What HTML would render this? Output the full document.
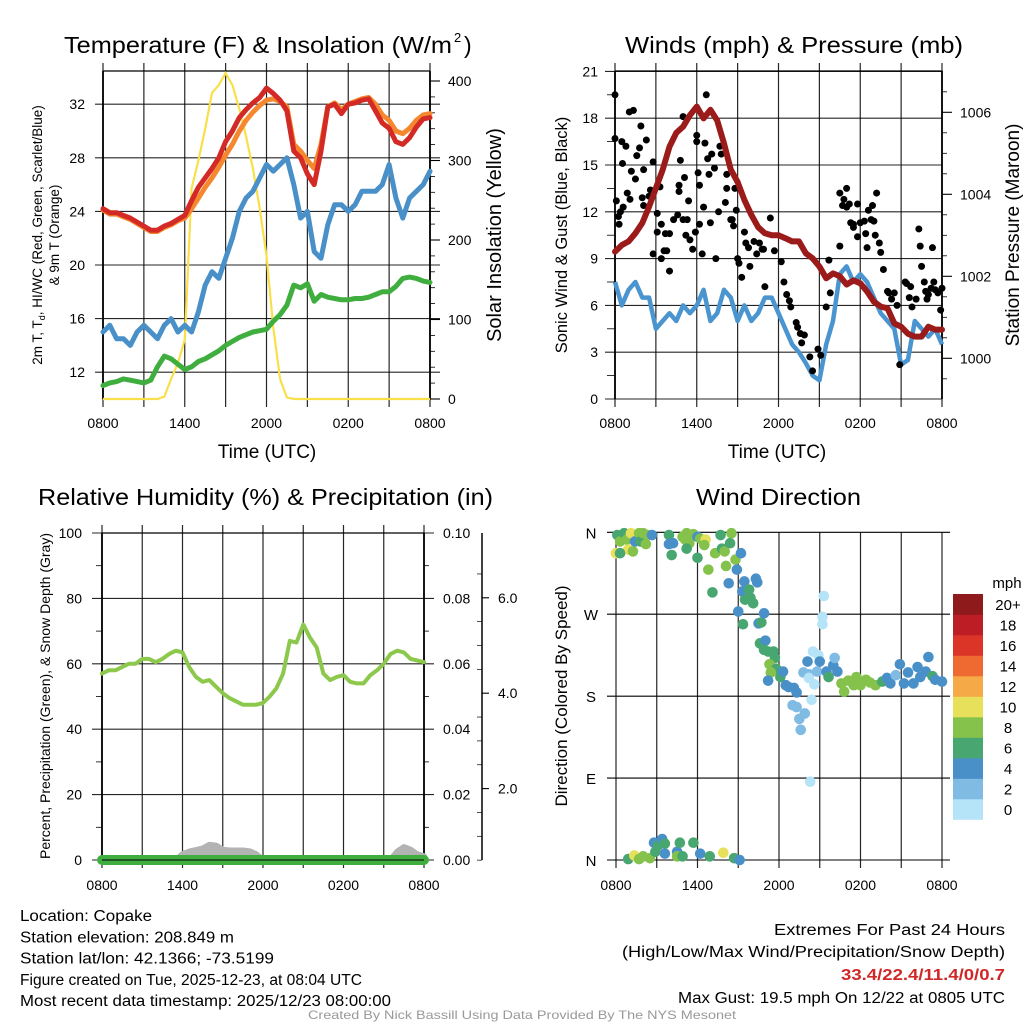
<!DOCTYPE html>
<html><head><meta charset="utf-8"><style>
html,body{margin:0;padding:0;background:#fff}
svg{display:block;font-family:"Liberation Sans",sans-serif}
</style></head><body>
<svg id="c" width="1024" height="1024" viewBox="0 0 1024 1024" xmlns="http://www.w3.org/2000/svg"></svg>
<script>
// ---------- DATA (half-hourly from 0800 UTC, 49 points) ----------
const xTickLabels = ["0800","","1400","","2000","","0200","","0800"];
const tempRed = [24.2,23.9,23.9,23.7,23.5,23.2,22.9,22.6,22.6,22.9,23.1,23.4,23.7,24.8,25.8,26.5,27.2,28.0,29.2,30.0,31.0,31.6,32.1,32.5,33.2,32.8,32.3,31.5,28.5,28.0,26.8,26.0,28.5,31.8,32.0,31.3,32.0,32.1,32.3,32.4,31.5,30.6,30.2,29.2,29.0,29.5,30.3,30.9,31.0];
const tempOrange = [24.1,23.8,23.8,23.6,23.4,23.1,22.8,22.5,22.5,22.8,23.0,23.3,23.5,24.2,25.0,25.8,26.5,27.3,28.2,29.0,30.0,30.8,31.4,31.9,32.3,32.4,32.2,31.8,29.0,28.5,27.8,27.2,29.0,31.8,32.1,31.6,32.0,32.2,32.4,32.5,32.0,31.2,30.8,30.0,29.8,30.2,30.8,31.2,31.3];
const tempBlue = [15.0,15.5,14.5,14.5,14.0,15.0,15.5,15.0,14.5,15.5,16.0,15.0,15.5,15.0,16.5,18.5,19.5,19.0,20.5,22.0,24.0,25.0,25.5,26.5,27.5,27.0,27.5,28.0,26.0,23.5,24.0,21.0,20.5,23.0,24.5,24.5,24.0,24.5,25.5,25.5,25.5,26.0,27.5,25.0,23.5,25.0,25.5,26.0,27.0];
const tempGreen = [11.0,11.2,11.3,11.5,11.4,11.3,11.2,11.4,12.4,13.2,13.0,12.6,12.2,12.4,12.8,13.0,13.3,13.6,14.0,14.3,14.6,14.8,15.0,15.1,15.2,15.8,16.3,17.0,18.5,18.3,18.6,17.3,17.8,17.6,17.5,17.4,17.4,17.5,17.5,17.6,17.8,18.0,18.0,18.4,19.0,19.1,19.0,18.8,18.7];
const solar = [0,0,0,0,0,0,0,0,0,3,25,45,75,265,300,340,385,395,410,395,365,330,290,240,180,90,25,2,0,0,0,0,0,0,0,0,0,0,0,0,0,0,0,0,0,0,0,0,0];
const tempTicks = [12,16,20,24,28,32];
const solarTicks = [0,100,200,300,400];

const windSpeed = [7.5,6,7,7.5,6.5,6.5,4.5,5,5.5,5,6,5.5,6,7,5,5.5,7,6.5,5,6,5,5.5,6.5,6.5,5.5,4.5,3.5,3.0,2.3,1.5,1.2,3.5,5,8,8.5,7.5,8,7.5,6.5,5.5,5.0,4.5,2.2,2.5,5,4.5,4.0,4.5,3.5];
const pressure = [1002.6,1002.76,1002.85,1003.05,1003.3,1003.7,1004.15,1004.6,1005.16,1005.5,1005.65,1005.93,1006.14,1005.85,1006.06,1005.8,1005.24,1004.6,1004.3,1003.86,1003.5,1003.2,1003.05,1003.0,1003.0,1002.93,1002.85,1002.85,1002.56,1002.44,1002.24,1001.95,1002.07,1002.0,1001.8,1001.9,1001.83,1001.63,1001.38,1001.26,1001.22,1000.85,1000.77,1000.6,1000.53,1000.53,1000.77,1000.7,1000.7];
const gustHours = [0,0,0.1,0.25,0.3,0.6,0.4,1.05,1.35,0.5,0.8,0.55,0.9,1.1,1.2,1.5,1.6,1.8,1.9,2,2.1,2.1,2.3,2.5,2.6,2.8,2.8,3.1,3.3,3.4,3.4,3.1,3.7,3.6,3.8,4.0,4.0,4.8,4.7,4.7,5.1,5,4.3,4.6,5,5.3,5.4,5.2,5.5,5.7,5.9,6,6,6.1,6.2,6.2,6.4,6.5,6.6,6.7,6.8,6.9,7.0,7.1,7.3,7.4,7.6,7.7,7.8,8.1,8.2,8.2,8.5,8.6,8.7,8.8,8.9,9.0,9.1,9.3,9.5,9.6,9.8,9.9,10.2,10.4,10.6,10.8,10.9,11.0,11.4,11.7,12.2,12.4,12.6,12.8,12.9,13.3,13.4,13.6,13.7,13.9,14.3,14.5,14.9,15.1,15.7,15.8,15.5,16.5,16.5,16.7,16.8,17.0,17.0,17.2,17.3,17.5,17.5,17.8,17.8,18,18.3,18.4,18.5,18.6,18.8,18.9,19,19.1,19.2,19.4,19.5,19.7,20,20.1,20.3,20.5,20.7,20.9,21.3,21.4,21.6,21.7,21.8,22.1,22.3,22.4,22.5,22.7,22.8,22.9,23.0,23.2,23.3,23.4,23.5,23.7,23.9,24];
const gustValues = [19.5,16.7,12.7,11.7,11.2,12.3,12,18.4,18.5,16.5,16.2,15.1,13.2,12.8,14.6,14.1,15.6,16.1,17.5,12.9,12.4,14.7,16.6,13,13.4,15.2,9.3,11.9,13.6,11.2,9.0,10.7,10.6,9.5,9.5,10.6,8.2,15.3,13.7,13.3,14.2,18.1,11.5,11.8,11.5,11.5,12.7,10.5,10.2,9.6,10.7,16.9,16.5,14.5,11.2,13.7,9.3,12.3,16.4,19.5,15.4,14.4,11.3,15.7,14.8,9.0,12,16.2,15.7,12.6,14.4,13.5,11.5,11.5,11.1,13.5,12.1,9.0,8.7,7.8,10.7,10,9.7,8.5,10.1,9.3,10.0,9.6,9.6,7.2,11.6,9.5,8.8,7.5,6.7,6.3,5.9,4.9,4.6,4.2,3.6,4.1,2.7,1.8,3.2,2.8,8.9,6.8,5.9,9.8,13.2,12.4,12.8,13.5,12.3,12.5,11.3,11,11.2,10.4,12.5,11.3,11.4,10.6,9.7,12.1,11.5,12.4,11.4,10.5,13.2,10,9.4,8.3,6.9,6.8,6.4,6.8,6,2.2,7.5,7.4,6.5,7.2,5.9,6.4,10.9,9.8,8.5,7.5,6.9,6.4,6.7,7.1,9.7,7.5,7,6.8,5.7,7.1];
const windTicks = [0,3,6,9,12,15,18,21];
const pressTicks = [1000,1002,1004,1006];

const rh = [57,58,58,59,60,60,61.5,61.5,60.5,61.5,63,64,63.5,59,56,54.5,55,53,51,49.5,48.5,47.5,47.5,47.5,48,50,52.5,57,67,66.5,72,68,65,57,55,56,56.5,54.5,54,54,56.5,58,60,63,64,63.5,61.5,61,60.5];
const precip = [0,0,0,0,0,0,0,0,0,0,0,0,0,0,0,0,0,0,0,0,0,0,0,0,0,0,0,0,0,0,0,0,0,0,0,0,0,0,0,0,0,0,0,0,0,0,0,0,0];
const snowDepth = [0,0,0,0,0,0,0,0,0,0,0,0,0.15,0.22,0.26,0.3,0.4,0.38,0.27,0.25,0.25,0.25,0.23,0.15,0,0,0,0,0,0,0,0,0,0,0,0,0,0,0,0,0,0,0,0,0.22,0.34,0.27,0.15,0.1];
const rhTicks = [0,20,40,60,80,100];
const precipTicks = ["0.00","0.02","0.04","0.06","0.08","0.10"];
const snowTicks = ["2.0","4.0","6.0"];

const dirHours = [0,0.1,0.3,0.6,0.8,1.1,0.9,1.25,1.4,1.7,1.8,2.0,2.2,2.3,2.65,0.3,3.9,3.9,4.2,4.1,5.2,4.9,5.1,5.4,5.7,6.0,6.2,6.6,6.5,5.2,6.0,7.3,7.7,7.8,8.0,8.4,6.8,7.1,8.1,8.3,8.5,8.8,8.9,9.2,9.45,9.3,9.0,9.35,9.8,9.9,9.5,10.1,10.3,10.4,10.5,10.7,10.9,10.6,11.0,10.9,11.2,11.6,11.7,11.3,11.8,11.4,11.2,12.1,12.3,12.5,12.7,13.1,13.3,13.0,13.3,13.5,13.6,13.9,13.8,14.1,14.2,14.4,14.6,14.2,14.5,14.9,15.0,14.8,15.2,15.2,15.3,14.3,15.5,15.65,16.0,16.1,16.3,16.6,16.8,17.1,17.5,17.7,18.0,18.4,18.7,19.1,19.6,19.95,20.2,20.6,20.9,21.2,21.5,21.9,22.2,22.4,22.8,23.0,23.3,23.5,24.0,0.9,1.35,1.7,2.0,2.5,2.8,2.9,3.1,3.4,3.6,3.6,4.5,4.7,4.5,4.9,5.7,6.2,6.9,7.9,8.7,9.1];
const dirDegrees = [337,357,350,359,352,359,341,339,350,359,350,359,347,357,357,337,357,347,348,335,359,355,352,348,358,355,353,352,346,342,332,337,357,342,339,348,319,294,323,304,359,330,319,337,306,295,273,259,297,288,286,282,309,305,260,261,271,238,241,231,229,229,222,215,210,206,197,201,207,192,190,189,184,170,168,155,143,161,206,218,204,176,193,200,229,225,218,207,259,267,290,86,207,201,214,222,207,194,185,197,192,201,192,198,195,192,196,200,194,203,215,194,206,194,212,201,207,223,202,198,196,1,5,1,4,2,19,9,16,23,18,7,9,19,4,4,19,7,4,8,2,0];
const dirSpeeds = [10,6,8,7,8,10,10,8,4,8,6,8,8,8,4,6,6,4,4,6,8,8,8,8,8,4,8,10,8,6,6,8,6,6,8,6,8,6,8,4,8,8,4,4,4,4,4,6,6,6,6,6,4,4,4,6,4,6,4,6,6,6,6,8,6,8,4,6,4,4,4,4,4,2,2,2,2,2,2,4,2,0,0,0,0,0,4,2,0,0,0,0,4,6,4,2,4,8,8,8,8,8,8,8,8,8,6,4,4,2,4,4,4,4,4,4,4,4,6,4,4,6,10,8,8,8,4,6,6,4,6,4,4,6,8,6,6,4,6,10,6,4];
const dirTickLabels = ["N","E","S","W","N"];
const speedBinLabels = ["0","2","4","6","8","10","12","14","16","18","20+"];
const speedBinColors = ["#b5e3f8","#80bbe4","#4a90c8","#48a671","#84c24b","#e6e05a","#f5a947","#ef6a30","#db3528","#bd1e26","#8f1a1b"];

// ---------- helpers ----------
const NS="http://www.w3.org/2000/svg";
const svg=document.getElementById('c');
function mk(tag,attrs,parent){const e=document.createElementNS(NS,tag);for(const k in attrs)e.setAttribute(k,attrs[k]);(parent||svg).appendChild(e);return e;}
function txt(s,x,y,opt,parent){const e=mk('text',Object.assign({x:x,y:y,'font-size':14,fill:'#000'},opt||{}),parent);e.textContent=s;return e;}
function grp(name){const g=mk('g',{});return g;}
function pathFrom(vals,fx,fy){return vals.map((v,i)=>(i?'L':'M')+fx(i).toFixed(1)+','+fy(v).toFixed(1)).join('');}

function frame(g,x0,x1,y0,y1){
  for(let k=0;k<=8;k++){const x=x0+(x1-x0)*k/8;
    mk('line',{x1:x,x2:x,y1:y0-8,y2:y1+8,stroke:'#000','stroke-width':1.2,'stroke-opacity':0.85},g);}
  mk('line',{x1:x0,x2:x1,y1:y0,y2:y0,stroke:'#000','stroke-width':1.3},g);
  mk('line',{x1:x0,x2:x0,y1:y0,y2:y1,stroke:'#000','stroke-width':1.8},g);
  mk('line',{x1:x1,x2:x1,y1:y0,y2:y1,stroke:'#000','stroke-width':1.8},g);
}
function xlabels(g,x0,x1,y){for(let k=0;k<=8;k++){if(!xTickLabels[k])continue;const t=txt(xTickLabels[k],x0+(x1-x0)*k/8,y,{'text-anchor':'middle','font-size':14},g);}}

// ---------- Panel 1 ----------
(function(){
 const g=grp('temperature-panel');
 const x0=103,x1=430,y0=71,y1=399;
 const fx=i=>x0+(x1-x0)*i/48;
 const fy=v=>399-(v-10)*13.4;
 const fs=v=>399-v*0.795;
 frame(g,x0,x1,y0,y1);
 tempTicks.forEach(v=>{const y=fy(v);mk('line',{x1:95,x2:x1+10,y1:y,y2:y,stroke:'#000','stroke-width':1.1,'stroke-opacity':0.85},g);
   const t=txt(v,85,y+5,{'text-anchor':'end'},g);});
 solarTicks.forEach(v=>{const y=fs(v);mk('line',{x1:x1,x2:x1+10,y1:y,y2:y,stroke:'#000','stroke-width':1.1},g);
   const t=txt(v,448,y+5,{},g);});
 for(let v=20;v<400;v+=20){if(v%100)mk('line',{x1:x1,x2:x1+5,y1:fs(v),y2:fs(v),stroke:'#000','stroke-width':0.8},g);}
 const s=mk('path',{d:pathFrom(solar,fx,fs),fill:'none',stroke:'#f9e04b','stroke-width':2.2},g);
 const l1=mk('path',{d:pathFrom(tempGreen,fx,fy),fill:'none',stroke:'#3fae3f','stroke-width':5,'stroke-linejoin':'round','stroke-linecap':'round'},g);
 const l2=mk('path',{d:pathFrom(tempBlue,fx,fy),fill:'none',stroke:'#4a90c8','stroke-width':5,'stroke-linejoin':'round','stroke-linecap':'round'},g);
 const l3=mk('path',{d:pathFrom(tempOrange,fx,fy),fill:'none',stroke:'#f5882e','stroke-width':5,'stroke-linejoin':'round','stroke-linecap':'round'},g);
 const l4=mk('path',{d:pathFrom(tempRed,fx,fy),fill:'none',stroke:'#d42a25','stroke-width':5,'stroke-linejoin':'round','stroke-linecap':'round'},g);
 xlabels(g,x0,x1,428);
 const tt=txt('Temperature (F) & Insolation (W/m',64,53,{'font-size':23,textLength:388,lengthAdjust:'spacingAndGlyphs'},g);
 txt('2',454,42,{'font-size':13},g);txt(')',464,53,{'font-size':23},g);
 const xt=txt('Time (UTC)',267,458,{'font-size':19,'text-anchor':'middle'},g);
 const yl=txt('',0,0,{'font-size':13.5,'text-anchor':'middle',transform:'translate(42,235) rotate(-90)'},g);
 const a=mk('tspan',{},yl);a.textContent='2m T, T';const b=mk('tspan',{'font-size':9,dy:3},yl);b.textContent='d';const c=mk('tspan',{dy:-3},yl);c.textContent=', HI/WC (Red, Green, Scarlet/Blue)';
 
 txt('& 9m T (Orange)',0,0,{'font-size':13.5,'text-anchor':'middle',transform:'translate(59,235) rotate(-90)'},g);
 const yr=txt('Solar Insolation (Yellow)',0,0,{'font-size':20,'text-anchor':'middle',transform:'translate(501,235) rotate(-90)'},g);
})();

// ---------- Panel 2 ----------
(function(){
 const g=grp('winds-panel');
 const x0=615,x1=942,y0=71,y1=399;
 const fx=i=>x0+(x1-x0)*i/48;
 const fh=h=>x0+(x1-x0)*h/24;
 const fy=v=>399-v*15.6;
 const fp=v=>358.3-(v-1000)*41;
 frame(g,x0,x1,y0,y1);
 windTicks.forEach(v=>{const y=fy(v);mk('line',{x1:605,x2:x1,y1:y,y2:y,stroke:'#000','stroke-width':1.1,'stroke-opacity':0.85},g);
   const t=txt(v,598,y+5,{'text-anchor':'end'},g);});
 for(let v=1.5;v<21;v+=3)mk('line',{x1:607,x2:615,y1:fy(v),y2:fy(v),stroke:'#000','stroke-width':0.8},g);
 pressTicks.forEach(v=>{const y=fp(v);mk('line',{x1:x1,x2:x1+10,y1:y,y2:y,stroke:'#000','stroke-width':1.1},g);
   const t=txt(v,960,y+5,{},g);});
 for(let v=999.5;v<1007;v+=0.5){if(v%2)mk('line',{x1:x1,x2:x1+5,y1:fp(v),y2:fp(v),stroke:'#000','stroke-width':0.8},g);}
 const w=mk('path',{d:pathFrom(windSpeed,fx,fy),fill:'none',stroke:'#4a95d0','stroke-width':4.5,'stroke-linejoin':'round'},g);
 gustHours.forEach((h,i)=>{const d=mk('circle',{cx:fh(h),cy:fy(gustValues[i]),r:3.5,fill:'#000'},g);
   });
 const p=mk('path',{d:pathFrom(pressure,fx,fp),fill:'none',stroke:'#9b1b1b','stroke-width':6,'stroke-linejoin':'round','stroke-linecap':'round'},g);
 xlabels(g,x0,x1,428);
 const tt=txt('Winds (mph) & Pressure (mb)',625,53,{'font-size':23,textLength:338,lengthAdjust:'spacingAndGlyphs'},g);
 const xt=txt('Time (UTC)',777,458,{'font-size':19,'text-anchor':'middle'},g);
 const yl=txt('Sonic Wind & Gust (Blue, Black)',0,0,{'font-size':16.5,'text-anchor':'middle',transform:'translate(567,235) rotate(-90)'},g);
 const yr=txt('Station Pressure (Maroon)',0,0,{'font-size':19,'text-anchor':'middle',transform:'translate(1019,235) rotate(-90)'},g);
})();

// ---------- Panel 3 ----------
(function(){
 const g=grp('humidity-panel');
 const x0=102,x1=424,y0=533,y1=860;
 const fx=i=>x0+(x1-x0)*i/48;
 const fy=v=>860-v*3.27;
 frame(g,x0,x1,y0,y1);
 rhTicks.forEach((v,k)=>{const y=fy(v);mk('line',{x1:92,x2:x1+10,y1:y,y2:y,stroke:'#000','stroke-width':1.1,'stroke-opacity':0.85},g);
   const t=txt(v,82,y+5,{'text-anchor':'end'},g);
   const t2=txt(precipTicks[k],443,y+5,{},g);});
 for(let v=10;v<100;v+=20){mk('line',{x1:96,x2:x0,y1:fy(v),y2:fy(v),stroke:'#000','stroke-width':0.8},g);mk('line',{x1:x1,x2:x1+5,y1:fy(v),y2:fy(v),stroke:'#000','stroke-width':0.8},g);}
 mk('line',{x1:482,x2:482,y1:533,y2:860,stroke:'#000','stroke-width':1.5},g);
 const fsd=v=>884-v*47.7;
 snowTicks.forEach(s=>{const y=fsd(parseFloat(s));mk('line',{x1:482,x2:489,y1:y,y2:y,stroke:'#000','stroke-width':1.1},g);
   const t=txt(s,498,y+5,{},g);});
 for(let v=0.5;v<7;v+=0.5){if(v%2)mk('line',{x1:477,x2:482,y1:fsd(v),y2:fsd(v),stroke:'#000','stroke-width':0.7},g);}
 const snowPx=v=>860-v*38;
 const sd=mk('path',{d:pathFrom(snowDepth,fx,snowPx)+'L'+x1+',860L'+x0+',860Z',fill:'#b3b3b3',stroke:'#b3b3b3','stroke-width':6,'stroke-linejoin':'round'},g);
 const fpr=v=>860-v*3270;
 const pr=mk('path',{d:pathFrom(precip,fx,fpr),fill:'none',stroke:'#3fae3f','stroke-width':10,'stroke-linecap':'round'},g);
 const r=mk('path',{d:pathFrom(rh,fx,fy),fill:'none',stroke:'#8cc84b','stroke-width':4,'stroke-linejoin':'round','stroke-linecap':'round'},g);
 mk('line',{x1:x0,x2:x1,y1:860,y2:860,stroke:'#000','stroke-width':1},g);
 xlabels(g,x0,x1,890);
 const tt=txt('Relative Humidity (%) & Precipitation (in)',38,505,{'font-size':23,textLength:455,lengthAdjust:'spacingAndGlyphs'},g);
 const yl=txt('Percent, Precipitation (Green), & Snow Depth (Gray)',0,0,{'font-size':14,'text-anchor':'middle',transform:'translate(50,696) rotate(-90)'},g);
})();

// ---------- Panel 4 ----------
(function(){
 const g=grp('wind-direction-panel');
 const x0=616,x1=942,y0=532,y1=860;
 const fh=h=>x0+(x1-x0)*h/24;
 const fd=d=>860-d/360*327.7;
 for(let k=0;k<=8;k++){const x=x0+(x1-x0)*k/8;mk('line',{x1:x,x2:x,y1:y0,y2:y1+8,stroke:'#000','stroke-width':1.2,'stroke-opacity':0.85},g);}
 dirTickLabels.forEach((s,k)=>{const y=fd(k*90);mk('line',{x1:607,x2:950,y1:y,y2:y,stroke:'#000','stroke-width':1.1},g);
   const t=txt(s,591,y+6,{'text-anchor':'middle','font-size':15},g);});
 dirHours.forEach((h,i)=>{const bin=Math.min(10,Math.floor(dirSpeeds[i]/2));
   const d=mk('circle',{cx:fh(h),cy:fd(dirDegrees[i]),r:5.3,fill:speedBinColors[bin]},g);
   });
 xlabels(g,x0,x1,890);
 const tt=txt('Wind Direction',696,505,{'font-size':23,textLength:165,lengthAdjust:'spacingAndGlyphs'},g);
 const yl=txt('Direction (Colored By Speed)',0,0,{'font-size':17,'text-anchor':'middle',transform:'translate(567,696) rotate(-90)'},g);
 const lg=grp('speed-colorbar');
 speedBinColors.forEach((c,k)=>{const y=594+(10-k)*20.5;
   const r=mk('rect',{x:953,y:y,width:30,height:20.8,fill:c},lg);
   const t=txt(speedBinLabels[k],1008,y+16,{'text-anchor':'middle','font-size':15},lg);});
 txt('mph',1007,588,{'text-anchor':'middle','font-size':15},lg);
})();

// ---------- Footer text ----------
(function(){
 const g=grp('station-info');
 const L=[["Location: Copake",132],["Station elevation: 208.849 m",214],["Station lat/lon: 42.1366; -73.5199",254],["Figure created on Tue, 2025-12-23, at 08:04 UTC",342],["Most recent data timestamp: 2025/12/23 08:00:00",371]];
 L.forEach((l,k)=>{txt(l[0],20,921+k*21.3,{'font-size':15.5,textLength:l[1],lengthAdjust:'spacingAndGlyphs'},g);});
 const R=grp('extremes-info');
 txt('Extremes For Past 24 Hours',774,935,{'font-size':15.5,textLength:231,lengthAdjust:'spacingAndGlyphs'},R);
 txt('(High/Low/Max Wind/Precipitation/Snow Depth)',622,957,{'font-size':15.5,textLength:383,lengthAdjust:'spacingAndGlyphs'},R);
 txt('33.4/22.4/11.4/0/0.7',841,980,{'font-size':15.5,'font-weight':'bold',fill:'#d02828',textLength:164,lengthAdjust:'spacingAndGlyphs'},R);
 txt('Max Gust: 19.5 mph On 12/22 at 0805 UTC',678,1003,{'font-size':15.5,textLength:327,lengthAdjust:'spacingAndGlyphs'},R);
 const f=txt('Created By Nick Bassill Using Data Provided By The NYS Mesonet',308,1019,{'font-size':12,fill:'#999',textLength:428,lengthAdjust:'spacingAndGlyphs'});
 
})();
</script>
</body></html>
